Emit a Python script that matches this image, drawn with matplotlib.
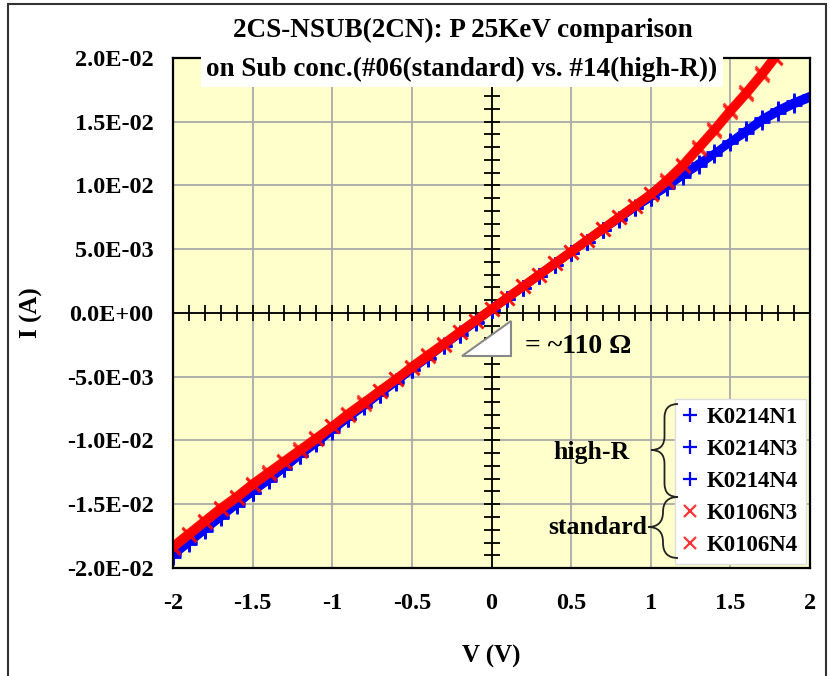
import numpy as np
import matplotlib
matplotlib.use("Agg")
import matplotlib.pyplot as plt
from matplotlib.lines import Line2D
from matplotlib.path import Path
from matplotlib.patches import PathPatch, Polygon, Rectangle

plt.rcParams['font.family'] = ['Liberation Serif', 'DejaVu Serif']
plt.rcParams['font.weight'] = 'bold'
plt.rcParams['axes.labelweight'] = 'bold'

# I-V sweeps, high-R substrate (#14)
v_hr = [-2.0, -1.9, -1.8, -1.7, -1.6, -1.5, -1.4, -1.3, -1.2, -1.1,
        -1.0, -0.9, -0.8, -0.7, -0.6, -0.5, -0.4, -0.3, -0.2, -0.1,
        0.0, 0.1, 0.2, 0.3, 0.4, 0.5, 0.6, 0.7, 0.8, 0.9,
        1.0, 1.1, 1.2, 1.3, 1.4, 1.5, 1.6, 1.7, 1.8, 1.9, 2.0]
i_k0214n1 = [-0.0190, -0.0180, -0.0170, -0.0160, -0.0150, -0.0141, -0.0131, -0.0122, -0.0112, -0.0102,
             -0.0092, -0.0083, -0.0073, -0.0064, -0.0054, -0.0045, -0.0035, -0.0026, -0.0017, -0.0007,
             0.0002, 0.0011, 0.0020, 0.0029, 0.0038, 0.0047, 0.0056, 0.0065, 0.0074, 0.0082,
             0.0090, 0.0099, 0.0108, 0.0117, 0.0125, 0.0134, 0.0143, 0.0152, 0.0159, 0.0165, 0.0170]
i_k0214n3 = [-0.0189, -0.0179, -0.0169, -0.0159, -0.0149, -0.0140, -0.0130, -0.0121, -0.0111, -0.0101,
             -0.0091, -0.0082, -0.0072, -0.0063, -0.0053, -0.0044, -0.0035, -0.0025, -0.0016, -0.0007,
             0.0002, 0.0011, 0.0020, 0.0029, 0.0038, 0.0047, 0.0056, 0.0065, 0.0073, 0.0082,
             0.0090, 0.0098, 0.0107, 0.0115, 0.0124, 0.0133, 0.0141, 0.0150, 0.0157, 0.0163, 0.0168]
i_k0214n4 = [-0.0191, -0.0181, -0.0171, -0.0161, -0.0151, -0.0141, -0.0132, -0.0122, -0.0112, -0.0103,
             -0.0093, -0.0083, -0.0074, -0.0064, -0.0055, -0.0045, -0.0036, -0.0026, -0.0017, -0.0008,
             0.0002, 0.0011, 0.0020, 0.0029, 0.0038, 0.0047, 0.0056, 0.0065, 0.0074, 0.0083,
             0.0091, 0.0100, 0.0109, 0.0118, 0.0126, 0.0135, 0.0144, 0.0153, 0.0160, 0.0166, 0.0171]

# I-V sweeps, standard substrate (#06), compliance reached near 1.78 V
v_std = [-2.0, -1.9, -1.8, -1.7, -1.6, -1.5, -1.4, -1.3, -1.2, -1.1,
         -1.0, -0.9, -0.8, -0.7, -0.6, -0.5, -0.4, -0.3, -0.2, -0.1,
         0.0, 0.1, 0.2, 0.3, 0.4, 0.5, 0.6, 0.7, 0.8, 0.9,
         1.0, 1.1, 1.2, 1.3, 1.4, 1.5, 1.6, 1.7, 1.78]
i_k0106n3 = [-0.0183, -0.0173, -0.0163, -0.0153, -0.0144, -0.0134, -0.0125, -0.0116, -0.0107, -0.0098,
             -0.0089, -0.0079, -0.0070, -0.0061, -0.0052, -0.0042, -0.0033, -0.0024, -0.0015, -0.0006,
             0.0003, 0.0012, 0.0021, 0.0030, 0.0039, 0.0048, 0.0057, 0.0066, 0.0075, 0.0084,
             0.0093, 0.0103, 0.0115, 0.0129, 0.0143, 0.0158, 0.0172, 0.0187, 0.0200]
i_k0106n4 = [-0.0184, -0.0174, -0.0164, -0.0154, -0.0145, -0.0135, -0.0126, -0.0117, -0.0108, -0.0099,
             -0.0089, -0.0080, -0.0071, -0.0061, -0.0052, -0.0043, -0.0034, -0.0025, -0.0015, -0.0006,
             0.0003, 0.0012, 0.0021, 0.0030, 0.0039, 0.0048, 0.0057, 0.0066, 0.0075, 0.0084,
             0.0093, 0.0104, 0.0116, 0.0130, 0.0144, 0.0159, 0.0173, 0.0188, 0.0201]

hr_series = [("K0214N1", i_k0214n1), ("K0214N3", i_k0214n3), ("K0214N4", i_k0214n4)]
std_series = [("K0106N3", i_k0106n3), ("K0106N4", i_k0106n4)]

W, H = 830, 676
fig = plt.figure(figsize=(W / 100, H / 100), dpi=100)
ax = fig.add_axes([173 / W, 1 - 568 / H, 637 / W, 510 / H])
ax.set_facecolor('#ffffcc')


def px(x, y):
    # pixel position (from top-left) -> figure fraction
    return x / W, 1 - y / H


# outer frame
fig.patches.append(Rectangle(px(8, 690), 818 / W, 686 / H, transform=fig.transFigure,
                             fill=False, edgecolor='#333333', lw=1.5, zorder=0))

blue = '#0000ff'
red = '#ff0000'
for name, i in hr_series:
    ax.plot(v_hr, i, color=blue, lw=4.5, zorder=3, solid_capstyle='round')
    ax.plot(v_hr, i, ls='none', marker='+', ms=11, mew=2, color=blue, zorder=3)
for name, i in std_series:
    ax.plot(v_std, i, color=red, lw=6.5, alpha=0.9, zorder=4, solid_capstyle='round')
    ax.plot(v_std, i, ls='none', marker='x', ms=10, mew=2, color=red, alpha=0.7, zorder=4)

ax.set_xlim(-2, 2)
ax.set_ylim(-0.02, 0.02)
ax.set_xticks(np.arange(-2, 2.01, 0.5))
ax.set_xticklabels(['-2', '-1.5', '-1', '-0.5', '0', '0.5', '1', '1.5', '2'])
ax.set_yticks(np.arange(-0.02, 0.0201, 0.005))
ax.set_yticklabels(['-2.0E-02', '-1.5E-02', '-1.0E-02', '-5.0E-03', '0.0E+00',
                    '5.0E-03', '1.0E-02', '1.5E-02', '2.0E-02'])
ax.tick_params(axis='x', length=0, pad=18, labelsize=17.5)
ax.tick_params(axis='y', length=0, pad=14, labelsize=17.5)
ax.grid(True, color='#aaaaaa', lw=1.3, zorder=1)
ax.set_axisbelow(True)
for s in ax.spines.values():
    s.set_linewidth(1.6)
    s.set_zorder(6)

# crossing axes through the origin with small ticks
ax.axhline(0, color='black', lw=1.3, zorder=2)
ax.axvline(0, color='black', lw=1.3, zorder=2)
ax.plot(np.arange(-2, 2.01, 0.1), np.zeros(41), ls='none', marker='|', ms=11,
        mew=1.3, color='black', zorder=2)
ax.plot(np.zeros(41), np.arange(-0.02, 0.0201, 0.001), ls='none', marker='_', ms=11,
        mew=1.3, color='black', zorder=2)

ax.set_xlabel('V (V)', fontsize=18)
ax.set_ylabel('I (A)', fontsize=18)
ax.xaxis.set_label_coords(0.5, -0.151)
ax.yaxis.set_label_coords(-0.204, 0.5)

# title, second line on a white box over the plot
fig.text(463 / W, 1 - 30 / H, '2CS-NSUB(2CN): P 25KeV comparison', ha='center', va='center',
         fontsize=19.5)
fig.text(462 / W, 1 - 69 / H, 'on Sub conc.(#06(standard) vs. #14(high-R))', ha='center',
         va='center', fontsize=19.5, zorder=10,
         bbox=dict(facecolor='white', edgecolor='none', pad=4))

# slope triangle
tri = Polygon([(-0.186, -0.00337), (0.123, -0.00337), (0.123, -0.00063)], closed=True,
              facecolor='white', edgecolor='#888888', lw=1.5, zorder=5)
ax.add_patch(tri)
ax.text(0.21, -0.0026, '= ~110 \u03a9', fontsize=20, va='center', ha='left', zorder=6)

# legend
handles = [Line2D([0], [0], ls='none', marker='+', ms=10, mew=1.6, color=blue) for _ in hr_series]
handles += [Line2D([0], [0], ls='none', marker='x', ms=8, mew=1.6, color=red, alpha=0.8)
            for _ in std_series]
labels = [n for n, _ in hr_series] + [n for n, _ in std_series]
leg = ax.legend(handles, labels, loc='lower right', bbox_to_anchor=(0.994, 0.008),
                fontsize=16.5, handlelength=0.6, handletextpad=0.45, labelspacing=0.48,
                borderpad=0.35, borderaxespad=0, frameon=True, fancybox=False,
                edgecolor='#dddddd', framealpha=1)
leg.set_zorder(8)


def brace(x_tip, x_end, y_top, y_bot, y_mid):
    # left-pointing curly brace, pixel coords from top-left
    r = (x_end - x_tip) / 2
    xm = x_tip + r
    verts = [(x_end, y_top), (xm, y_top), (xm, y_top + r), (xm, y_mid - r),
             (xm, y_mid), (x_tip, y_mid), (xm, y_mid), (xm, y_mid + r),
             (xm, y_bot - r), (xm, y_bot), (x_end, y_bot)]
    codes = [Path.MOVETO, Path.CURVE3, Path.CURVE3, Path.LINETO,
             Path.CURVE3, Path.CURVE3, Path.CURVE3, Path.CURVE3,
             Path.LINETO, Path.CURVE3, Path.CURVE3]
    verts = [px(x, y) for x, y in verts]
    fig.patches.append(PathPatch(Path(verts, codes), transform=fig.transFigure,
                                 fill=False, edgecolor='#222222', lw=1.3, zorder=9))


brace(651, 678, 404, 497, 450)
brace(648, 678, 497, 558, 527)
fig.text(591 / W, 1 - 452 / H, 'high-R', ha='center', va='center', fontsize=18.5, zorder=9)
fig.text(647 / W, 1 - 527 / H, 'standard', ha='right', va='center', fontsize=18.5, zorder=9)

fig.savefig('out.png', dpi=100)
